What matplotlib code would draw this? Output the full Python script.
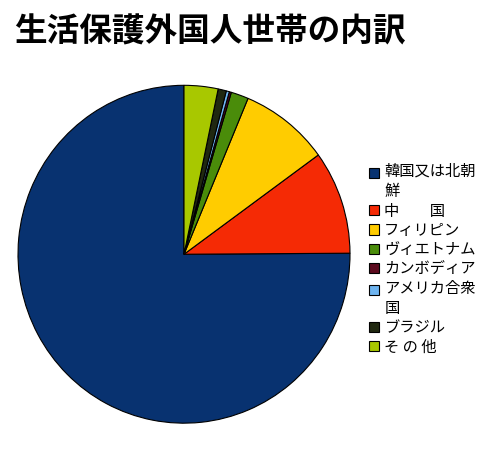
import matplotlib
matplotlib.use('Agg')
import matplotlib.pyplot as plt
from matplotlib.patches import Patch, Rectangle
from matplotlib.legend_handler import HandlerPatch

plt.rcParams['font.family'] = ['Noto Sans CJK JP', 'DejaVu Sans']

TITLE  = "生活保護外国人世帯の内訳"
LABELS = ["韓国又は北朝\n鮮", "中　　国", "フィリピン", "ヴィエトナム",
          "カンボディア", "アメリカ合衆\n国", "ブラジル", "そ の 他"]
SHARES = [75.1, 9.9, 8.7, 1.7, 0.2, 0.3, 0.8, 3.3]   # percent
COLORS = ['#083270', '#F52A05', '#FFCC00', '#4A8C0A',
          '#5C0A1E', '#6EB4F0', '#202810', '#A8C800']

fig = plt.figure(figsize=(5.0, 4.49), dpi=100)
fig.patch.set_facecolor('white')

ax = fig.add_axes([0.036, 0.0575, 0.664, 0.7525])
ax.pie(SHARES, colors=COLORS, startangle=90, counterclock=True,
       wedgeprops={'edgecolor': 'black', 'linewidth': 0.8})
ax.set_aspect('auto')
ax.set_xlim(-1.0, 1.0)
ax.set_ylim(-1.0, 1.0)

fig.text(0.028, 0.928, TITLE, fontsize=23.5, fontweight='bold', ha='left', va='center')


# square next to the first line of a wrapped label, like the original
def square(legend, orig_handle, xdescent, ydescent, width, height, fontsize):
    shift = 0.62 * fontsize if '\n' in orig_handle.get_label() else 0.0
    return Rectangle((-xdescent, -ydescent + shift), width, height)


handles = [Patch(facecolor=c, edgecolor='black', linewidth=0.8, label=l)
           for c, l in zip(COLORS, LABELS)]
leg = fig.legend(handles=handles, loc='upper left', bbox_to_anchor=(0.738, 0.637),
                 frameon=False, fontsize=11, handlelength=0.65, handleheight=0.65,
                 handletextpad=0.35, labelspacing=0.15, borderpad=0, borderaxespad=0,
                 handler_map={Patch: HandlerPatch(patch_func=square)})
for t in leg.get_texts():
    t.set_linespacing(1.25)

plt.savefig('out.png', dpi=100)
